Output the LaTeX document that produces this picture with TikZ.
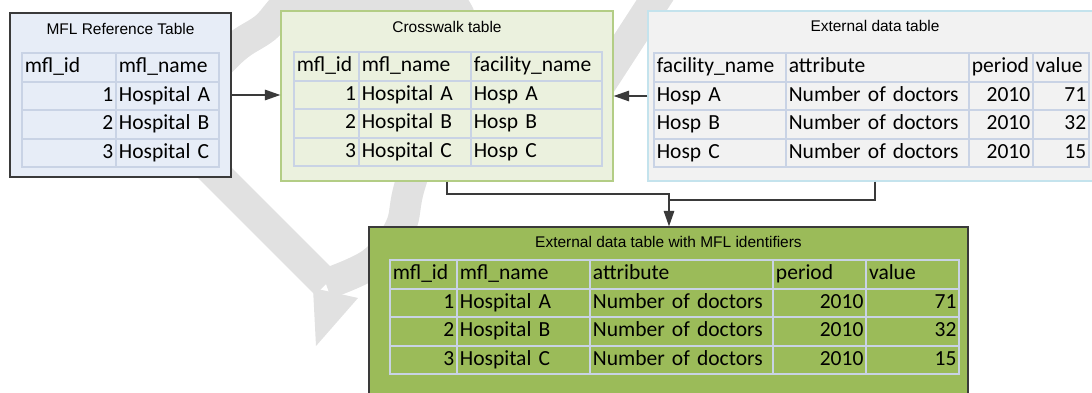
\documentclass[tikz,border=0pt]{standalone}
\usepackage{fontspec}
\setmainfont{Carlito}
\newfontfamily\titlefont{Liberation Sans}
\usetikzlibrary{arrows.meta,matrix,positioning}

\definecolor{mflfill}{HTML}{E7EDF7}
\definecolor{cwfill}{HTML}{EBF1DE}
\definecolor{cwline}{HTML}{B3CD85}
\definecolor{extfill}{HTML}{F2F2F2}
\definecolor{extline}{HTML}{C4E3ED}
\definecolor{resfill}{HTML}{9BBB59}
\definecolor{cellline}{HTML}{C9D3E5}
\definecolor{darkline}{HTML}{3A3A3A}
\definecolor{wmgray}{HTML}{E1E1E1}

\tikzset{
  box/.style={line width=0.9pt, inner sep=0pt},
  boxtitle/.style={font=\titlefont\fontsize{11}{13}\selectfont, inner sep=0pt},
  tabcell/.style={draw=cellline, line width=1.4pt, inner xsep=2pt, inner ysep=0pt,
    outer sep=0pt, minimum height=20.3pt, text height=11pt, text depth=3.5pt,
    align=left, font=\fontsize{15.3}{18}\selectfont},
  datatable/.style={matrix of nodes, nodes={tabcell}, column sep=-1.4pt, row sep=-1.4pt,
    anchor=north west, inner sep=0pt, outer sep=0pt,
    row 1/.style={nodes={align=left}}},
  conn/.style={draw=darkline, line width=0.9pt},
  arr/.style={conn, -{Triangle[length=11pt,width=7.5pt]}},
  wmband/.style={draw=wmgray, line width=22pt, line join=round},
}

\begin{document}
\begin{tikzpicture}[x=0.025cm, y=-0.025cm]
  \useasboundingbox (0,0) rectangle (1092,393);

  % watermark in the background
  \fill[wmgray] (313,288) -- (316,346) -- (358,298) -- cycle;
  \draw[wmband] (160,118) -- (326,284);
  \draw[wmband] plot[smooth, tension=0.6] coordinates {(326,284) (372,263) (400,228)
    (410,185) (440,95) (462,30) (440,-3) (380,-3) (300,-2) (265,28) (235,48) (195,88) (160,118)};
  \draw[wmband] (598,88) -- (668,-20);

  % boxes
  \node[box, draw=darkline, fill=mflfill, minimum width=5.525cm, minimum height=4.1cm] (mfl) at (120.5,95) {};
  \node[box, draw=cwline, fill=cwfill, minimum width=8.3cm, minimum height=4.25cm] (cw) at (447,96) {};
  \node[box, draw=extline, fill=extfill, minimum width=11.35cm, minimum height=4.25cm] (ext) at (875,96) {};
  \node[box, draw=darkline, fill=resfill, minimum width=14.975cm, minimum height=4.575cm] (res) at (668.5,318.5) {};

  \node[boxtitle] (mfltitle) at (120.5,29) {MFL Reference Table};
  \node[boxtitle] (cwtitle) at (447,27) {Crosswalk table};
  \node[boxtitle] (exttitle) at (875,26) {External data table};
  \node[boxtitle] (restitle) at (668.5,242) {External data table with MFL identifiers};

  % tables
  \matrix (mfltab) [datatable,
    column 1/.style={nodes={text width=62.9pt, align=right}},
    column 2/.style={nodes={text width=69.3pt}}] at (21,52) {
    mfl\_id & mfl\_name \\
    1 & Hospital A \\
    2 & Hospital B \\
    3 & Hospital C \\
  };

  \matrix (cwtab) [datatable,
    column 1/.style={nodes={text width=42.2pt, align=right}},
    column 2/.style={nodes={text width=75.7pt}},
    column 3/.style={nodes={text width=89.2pt}}] at (293,51) {
    mfl\_id & mfl\_name & facility\_name \\
    1 & Hospital A & Hosp A \\
    2 & Hospital B & Hosp B \\
    3 & Hospital C & Hosp C \\
  };

  \matrix (exttab) [datatable,
    column 1/.style={nodes={text width=89.9pt}},
    column 2/.style={nodes={text width=126.2pt}},
    column 3/.style={nodes={text width=41.5pt, align=right}},
    column 4/.style={nodes={text width=35.8pt, align=right}}] at (653,52) {
    facility\_name & attribute & period & value \\
    Hosp A & Number of doctors & 2010 & 71 \\
    Hosp B & Number of doctors & 2010 & 32 \\
    Hosp C & Number of doctors & 2010 & 15 \\
  };

  \matrix (restab) [datatable,
    column 1/.style={nodes={text width=43.7pt, align=right}},
    column 2/.style={nodes={text width=90.6pt}},
    column 3/.style={nodes={text width=126.2pt}},
    column 4/.style={nodes={text width=62.2pt, align=right}},
    column 5/.style={nodes={text width=62.2pt, align=right}}] at (389,259) {
    mfl\_id & mfl\_name & attribute & period & value \\
    1 & Hospital A & Number of doctors & 2010 & 71 \\
    2 & Hospital B & Number of doctors & 2010 & 32 \\
    3 & Hospital C & Number of doctors & 2010 & 15 \\
  };

  % connectors
  \coordinate (split) at (669,194);
  \coordinate (merge) at (669,200);
  \draw[arr] (mfl.east) -- (mfl.east -| cw.west);
  \draw[arr] (ext.west) -- (ext.west -| cw.east);
  \draw[conn] (ext.south) |- (merge);
  \draw[arr] (cw.south) |- (split) -- (split |- res.north);
\end{tikzpicture}
\end{document}
